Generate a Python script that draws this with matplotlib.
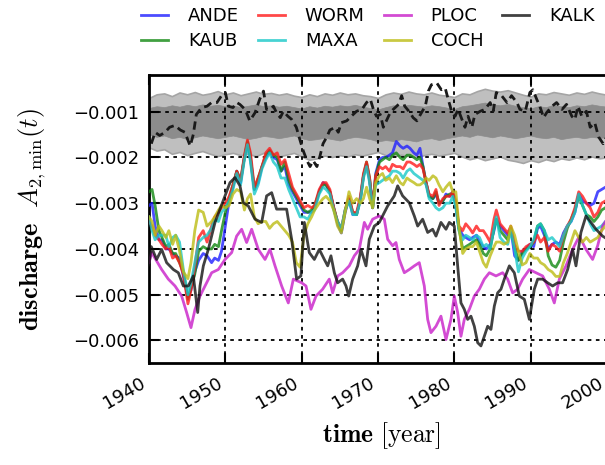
import numpy as np
import matplotlib
matplotlib.use("Agg")
import matplotlib.pyplot as plt
from matplotlib.ticker import FuncFormatter

plt.rcParams['mathtext.fontset'] = 'cm'

# values are in units of 1e-3
years_grp = [1940.0, 1940.4, 1940.8, 1941.3, 1941.7, 1942.2, 1942.6, 1943.1, 1943.5, 1944.0,
             1944.5, 1945.1, 1945.5, 1946.0, 1946.5, 1947.1, 1947.6, 1948.2, 1948.6, 1949.1,
             1949.5, 1950.0, 1950.5, 1951.0, 1951.5, 1952.0, 1952.5, 1952.9, 1953.3, 1953.8,
             1954.3, 1954.8, 1955.3, 1955.8, 1956.3, 1956.8, 1957.3, 1957.8, 1958.3, 1958.8,
             1959.3, 1959.8, 1960.3, 1960.8, 1961.3, 1961.7, 1962.3, 1962.8, 1963.2, 1963.7,
             1964.2, 1964.7, 1965.2, 1965.7, 1966.2, 1966.7, 1967.2, 1967.7, 1968.1, 1968.5,
             1968.9, 1969.3, 1969.7, 1970.2, 1970.6, 1971.0, 1971.5, 1971.9, 1972.4, 1972.9,
             1973.3, 1973.8, 1974.2, 1974.7, 1975.1, 1975.5, 1975.9, 1976.3, 1976.7, 1977.2,
             1977.6, 1978.0, 1978.5, 1978.9, 1979.4, 1979.8, 1980.2, 1980.6, 1981.1, 1981.5,
             1982.0, 1982.4, 1982.9, 1983.3, 1983.8, 1984.2, 1984.7, 1985.2, 1985.5, 1986.0,
             1986.5, 1987.0, 1987.4, 1987.9, 1988.4, 1988.9, 1989.4, 1989.9, 1990.4, 1990.9,
             1991.3, 1991.8, 1992.3, 1992.8, 1993.3, 1993.8, 1994.3, 1994.8, 1995.3, 1995.8,
             1996.3, 1996.8, 1997.3, 1997.8, 1998.3, 1998.8, 1999.3, 1999.8, 2000.3, 2000.8]

ande = [-3.05, -3.0, -3.5, -3.8, -3.8, -4.0, -4.0, -4.1, -4.15, -4.2,
        -4.6, -5.05, -4.9, -4.5, -4.25, -4.1, -4.15, -4.3, -4.2, -4.25,
        -4.05, -3.5, -2.95, -2.65, -2.3, -2.55, -2.0, -1.7, -2.05, -2.7,
        -2.55, -2.2, -2.0, -1.85, -2.0, -2.05, -2.3, -2.2, -2.6, -2.75,
        -2.9, -3.05, -3.2, -3.2, -3.2, -3.1, -2.75, -2.55, -2.6, -2.75,
        -3.1, -3.45, -3.65, -3.2, -2.9, -3.25, -3.25, -2.9, -2.4, -2.15,
        -2.5, -3.1, -2.35, -2.05, -2.0, -2.0, -1.95, -1.9, -1.65, -1.75,
        -1.8, -1.75, -1.8, -1.9, -1.95, -1.8, -2.2, -2.55, -2.85, -2.9,
        -2.8, -3.0, -2.95, -2.8, -2.85, -2.75, -3.05, -3.55, -3.7, -3.75,
        -3.8, -3.75, -3.7, -3.85, -3.95, -4.0, -3.9, -3.6, -3.35, -3.5,
        -3.6, -3.7, -3.55, -4.15, -4.25, -4.05, -4.0, -3.9, -3.95, -3.55,
        -3.5, -3.7, -4.0, -3.9, -3.85, -3.9, -3.65, -3.5, -3.4, -3.2,
        -2.8, -2.95, -3.0, -3.05, -3.0, -2.75, -2.7, -2.65, -2.6, -2.55]
kaub = [-2.75, -2.7, -3.05, -3.6, -3.75, -3.95, -3.9, -4.1, -4.1, -4.3,
        -4.5, -5.1, -4.85, -4.55, -4.05, -3.95, -4.0, -4.0, -3.9, -3.95,
        -3.6, -3.2, -2.9, -2.6, -2.3, -2.5, -2.0, -1.65, -2.0, -2.7,
        -2.45, -2.2, -1.95, -1.85, -1.95, -2.0, -2.3, -2.1, -2.5, -2.7,
        -2.85, -3.0, -3.15, -3.2, -3.15, -3.05, -2.75, -2.6, -2.6, -2.75,
        -3.1, -3.4, -3.6, -3.15, -2.9, -3.2, -3.25, -2.9, -2.4, -2.1,
        -2.45, -3.1, -2.4, -2.1, -2.05, -2.0, -2.05, -1.95, -1.9, -2.0,
        -2.05, -1.95, -1.95, -2.0, -2.05, -2.0, -2.2, -2.55, -2.85, -2.9,
        -2.75, -3.0, -2.95, -2.85, -2.8, -2.8, -3.0, -3.55, -4.0, -3.95,
        -3.9, -3.85, -3.8, -3.9, -4.1, -4.15, -4.0, -3.55, -3.35, -3.6,
        -3.7, -3.8, -3.55, -3.95, -4.25, -4.1, -4.0, -3.95, -3.85, -3.5,
        -3.45, -3.6, -4.15, -4.35, -4.4, -4.25, -3.85, -3.55, -3.35, -3.15,
        -2.85, -3.05, -3.25, -3.3, -3.4, -3.3, -3.15, -3.1, -3.0, -2.95]
worm = [-3.4, -3.5, -3.7, -3.8, -3.9, -4.0, -3.95, -4.2, -4.15, -4.3,
        -4.55, -5.2, -4.9, -4.4, -3.75, -3.6, -3.85, -3.5, -3.3, -3.2,
        -3.1, -3.0, -2.85, -2.6, -2.3, -2.5, -1.95, -1.62, -1.9, -2.65,
        -2.45, -2.2, -1.9, -1.8, -1.95, -1.9, -2.15, -2.05, -2.35, -2.65,
        -2.8, -2.95, -3.1, -3.05, -3.1, -3.05, -2.7, -2.55, -2.55, -2.7,
        -3.1, -3.4, -3.55, -3.15, -2.85, -3.2, -3.2, -2.85, -2.35, -2.1,
        -2.45, -3.1, -2.4, -2.2, -2.25, -2.2, -2.3, -2.15, -2.2, -2.2,
        -2.25, -2.1, -2.1, -2.15, -2.2, -2.15, -2.25, -2.55, -2.8, -2.85,
        -2.7, -3.05, -2.9, -2.85, -2.85, -2.75, -2.95, -3.5, -3.6, -3.45,
        -3.55, -3.65, -3.5, -3.6, -3.6, -3.7, -3.85, -3.35, -3.15, -3.45,
        -3.55, -3.65, -3.5, -3.9, -4.05, -4.05, -3.95, -3.9, -3.85, -3.7,
        -3.85, -3.75, -4.05, -3.9, -3.95, -4.05, -3.7, -3.5, -3.35, -3.1,
        -2.75, -2.85, -3.0, -3.1, -3.3, -3.2, -3.0, -2.95, -2.9, -2.85]
maxa = [-3.3, -3.6, -3.8, -3.7, -3.7, -3.7, -3.95, -3.75, -3.7, -3.85,
        -4.45, -5.0, -4.75, -4.3, -3.85, -3.75, -3.7, -3.55, -3.35, -3.4,
        -3.2, -3.1, -2.95, -2.7, -2.35, -2.6, -2.05, -1.72, -2.1, -2.8,
        -2.6, -2.25, -2.05, -1.9, -2.1, -2.2, -2.45, -2.45, -2.7, -2.9,
        -3.1, -3.3, -3.3, -3.35, -3.2, -3.15, -2.8, -2.65, -2.7, -2.8,
        -3.15, -3.4, -3.55, -3.15, -2.95, -3.25, -3.25, -2.95, -2.45, -2.2,
        -2.55, -3.1, -2.6, -2.55, -2.5, -2.45, -2.4, -2.3, -2.3, -2.35,
        -2.45, -2.3, -2.25, -2.35, -2.4, -2.45, -2.5, -2.6, -2.9, -3.0,
        -3.1, -3.15, -3.1, -3.0, -3.0, -2.85, -3.1, -3.6, -3.8, -3.7,
        -3.75, -3.8, -3.7, -3.75, -3.95, -3.9, -4.0, -3.55, -3.3, -3.75,
        -3.85, -3.9, -3.6, -4.0, -4.5, -4.2, -4.05, -3.95, -3.8, -3.5,
        -3.45, -3.6, -3.8, -3.75, -3.85, -3.95, -3.7, -3.5, -3.4, -3.2,
        -2.8, -3.05, -3.25, -3.45, -3.6, -3.55, -3.5, -3.4, -3.3, -3.25]
coch = [-3.3, -3.4, -3.7, -3.5, -3.6, -3.75, -3.6, -3.9, -3.7, -4.05,
        -4.5, -4.65, -4.3, -3.6, -3.15, -3.2, -3.5, -3.4, -3.3, -3.15,
        -3.05, -3.1, -3.05, -2.8, -2.7, -2.75, -3.15, -2.9, -2.8, -3.3,
        -3.45, -3.4, -3.4, -3.55, -3.45, -3.4, -3.5, -3.6, -3.7, -3.85,
        -4.3, -4.4, -3.7, -3.45, -3.3, -3.15, -3.0, -2.9, -2.85, -2.95,
        -3.15, -3.5, -3.65, -3.2, -2.75, -3.0, -2.9, -3.0, -2.9, -2.65,
        -2.9, -3.1, -2.55, -2.4, -2.35, -2.5, -2.45, -2.55, -2.4, -2.55,
        -2.6, -2.45, -2.5, -2.55, -2.6, -2.6, -2.55, -2.45, -2.5, -2.4,
        -2.45, -2.6, -2.75, -2.65, -2.55, -2.75, -2.75, -3.5, -4.1, -4.0,
        -3.95, -3.95, -3.85, -4.05, -4.3, -4.4, -4.15, -3.95, -3.85, -3.85,
        -3.9, -3.85, -3.5, -3.7, -4.05, -4.35, -4.3, -4.1, -4.2, -4.2,
        -4.3, -4.35, -4.45, -4.5, -4.6, -4.6, -4.3, -4.1, -3.85, -3.6,
        -3.75, -3.85, -3.75, -3.85, -3.8, -3.75, -3.6, -3.5, -3.4, -3.35]

years_ploc = [1940.0, 1940.35, 1941.66, 1942.53, 1943.41, 1944.28, 1944.93, 1945.5, 1946.03, 1946.68,
              1947.55, 1948.21, 1949.08, 1949.96, 1950.83, 1951.48, 1952.14, 1952.79, 1953.45, 1954.32,
              1955.2, 1955.85, 1956.51, 1957.38, 1958.25, 1958.91, 1960.0, 1960.57, 1961.22, 1961.88,
              1962.75, 1963.62, 1964.06, 1964.72, 1965.37, 1966.24, 1966.9, 1967.55, 1968.21, 1968.65,
              1969.3, 1970.17, 1970.83, 1971.27, 1971.92, 1972.36, 1972.79, 1973.45, 1974.1, 1974.76,
              1975.41, 1976.07, 1976.51, 1976.94, 1977.6, 1978.25, 1978.91, 1979.56, 1980.0, 1980.44,
              1980.87, 1981.31, 1981.97, 1982.62, 1983.28, 1983.93, 1984.59, 1985.46, 1986.33, 1986.99,
              1987.64, 1988.3, 1988.95, 1989.83, 1990.7, 1991.57, 1992.45, 1993.1, 1993.76, 1994.63,
              1995.5, 1996.38, 1997.25, 1998.12, 1998.78, 1999.43, 2000.2, 2001.0]
ploc = [-4.3, -4.08, -4.45, -4.66, -4.81, -5.03, -5.39, -5.72, -5.32, -5.03,
        -4.74, -4.52, -4.45, -4.23, -4.08, -3.72, -3.57, -3.86, -3.57, -4.01,
        -4.23, -4.01, -4.37, -4.81, -5.18, -4.66, -4.74, -4.81, -5.32, -5.03,
        -4.88, -4.66, -4.96, -4.59, -4.52, -4.37, -4.15, -4.01, -3.42, -3.57,
        -3.35, -3.28, -3.35, -3.79, -3.93, -3.86, -4.23, -4.52, -4.45, -4.37,
        -4.3, -4.81, -5.54, -5.83, -5.69, -5.47, -5.98, -5.54, -5.03, -5.39,
        -5.91, -5.54, -5.32, -5.03, -4.88, -4.66, -4.52, -4.59, -4.52, -4.66,
        -4.96, -4.88, -4.66, -4.45, -4.52, -4.59, -4.88, -5.18, -4.66, -4.37,
        -4.01, -3.72, -4.01, -4.23, -3.93, -3.5, -3.3, -3.2]

years_kalk = [1940.0, 1940.3, 1941.0, 1941.66, 1942.31, 1943.19, 1943.84, 1944.5, 1945.15, 1945.81,
              1946.38, 1946.68, 1947.12, 1947.77, 1948.65, 1949.3, 1949.96, 1950.61, 1951.27, 1951.92,
              1952.36, 1953.01, 1953.89, 1954.76, 1955.41, 1956.07, 1956.72, 1957.38, 1958.03, 1958.69,
              1959.34, 1959.9, 1960.35, 1961.0, 1961.66, 1962.31, 1962.97, 1963.41, 1963.84, 1964.28,
              1964.72, 1965.37, 1965.81, 1966.16, 1966.68, 1967.34, 1967.77, 1968.43, 1968.86, 1969.52,
              1970.17, 1971.27, 1972.14, 1972.58, 1973.23, 1974.1, 1974.76, 1975.2, 1975.85, 1976.51,
              1977.16, 1977.6, 1978.25, 1978.91, 1979.34, 1980.0, 1980.44, 1980.87, 1981.31, 1981.75,
              1982.18, 1982.62, 1983.06, 1983.49, 1983.93, 1984.37, 1984.8, 1985.24, 1985.68, 1986.11,
              1986.55, 1987.21, 1987.86, 1988.52, 1989.17, 1989.83, 1990.48, 1990.92, 1991.57, 1992.23,
              1992.88, 1993.54, 1994.19, 1994.85, 1995.5, 1995.94, 1996.59, 1997.25, 1997.9, 1998.56,
              1999.43, 2000.2, 2001.0]
kalk = [-4.35, -3.95, -4.23, -4.01, -4.3, -4.45, -4.52, -4.81, -4.81, -4.59,
        -5.39, -4.81, -4.37, -4.01, -3.42, -3.13, -2.84, -2.55, -2.44, -2.62,
        -2.99, -3.06, -3.35, -3.42, -2.84, -2.77, -3.13, -3.13, -3.13, -3.79,
        -4.66, -4.59, -3.42, -4.08, -4.23, -4.01, -4.23, -4.37, -4.15, -4.52,
        -4.74, -4.66, -4.81, -5.03, -4.66, -4.37, -4.01, -4.37, -3.79, -3.5,
        -3.42, -3.06, -2.84, -2.62, -2.84, -2.99, -3.28, -3.5, -3.35, -3.64,
        -3.57, -3.72, -3.42, -3.57, -3.42, -3.5, -4.37, -5.18, -5.32, -5.54,
        -5.47, -5.69, -6.05, -6.12, -5.91, -5.69, -5.76, -5.25, -4.96, -4.88,
        -4.66, -4.37, -4.52, -5.03, -5.1, -5.54, -4.88, -4.66, -4.66, -4.74,
        -4.81, -4.74, -4.74, -4.45, -4.01, -4.37, -3.64, -3.28, -3.42, -3.57,
        -3.72, -3.8, -3.8]

# reference curve (dashed) and its bands
years_ref = [1940.3, 1940.8, 1941.4, 1942.1, 1942.7, 1943.4, 1944.1, 1944.7, 1945.4, 1945.8,
             1946.2, 1946.9, 1947.6, 1948.2, 1948.9, 1949.5, 1950.0, 1950.4, 1951.0, 1951.5,
             1951.9, 1952.6, 1953.2, 1953.9, 1954.5, 1955.0, 1955.4, 1955.9, 1956.3, 1956.7,
             1957.2, 1957.6, 1958.2, 1958.7, 1959.3, 1959.8, 1960.2, 1960.7, 1961.1, 1961.5,
             1962.0, 1962.4, 1962.8, 1963.3, 1963.7, 1964.4, 1964.8, 1965.2, 1965.9, 1966.5,
             1967.2, 1967.9, 1968.5, 1969.0, 1969.4, 1969.8, 1970.3, 1970.7, 1971.1, 1971.6,
             1972.0, 1972.7, 1973.1, 1973.5, 1974.2, 1974.6, 1975.1, 1975.7, 1976.2, 1976.6,
             1977.0, 1977.7, 1978.3, 1978.8, 1979.2, 1979.7, 1980.1, 1980.5, 1981.0, 1981.4,
             1981.8, 1982.3, 1982.7, 1983.4, 1984.0, 1984.7, 1985.1, 1985.5, 1986.2, 1986.9,
             1987.5, 1988.2, 1988.6, 1989.3, 1989.9, 1990.3, 1990.8, 1991.2, 1991.7, 1992.1,
             1992.8, 1993.4, 1994.1, 1994.7, 1995.4, 1995.8, 1996.2, 1996.7, 1997.3, 1997.8,
             1998.4, 1998.9, 1999.5, 2000.1, 2000.8]
ref = [-1.7, -1.45, -1.52, -1.45, -1.34, -1.3, -1.4, -1.45, -1.75, -1.5,
       -1.06, -0.91, -0.88, -0.8, -0.8, -0.65, -0.58, -0.88, -0.91, -0.8,
       -0.84, -0.95, -1.2, -1.02, -0.73, -0.55, -0.95, -0.95, -0.88, -1.02,
       -1.13, -0.99, -1.1, -1.17, -1.34, -1.63, -1.85, -2.07, -2.2, -2.07,
       -2.2, -1.97, -1.7, -1.55, -1.4, -1.34, -1.45, -1.24, -1.2, -1.1,
       -0.99, -0.95, -0.8, -0.73, -0.95, -1.1, -1.06, -1.34, -1.2, -1.02,
       -0.95, -0.84, -0.65, -0.88, -1.02, -1.13, -1.2, -1.02, -0.88, -0.55,
       -0.41, -0.37, -0.52, -0.48, -0.73, -1.02, -1.1, -0.95, -1.17, -1.34,
       -1.1, -1.34, -1.06, -0.99, -0.95, -0.8, -0.99, -0.58, -0.65, -0.8,
       -0.65, -0.8, -0.95, -0.99, -0.58, -0.52, -0.73, -0.88, -1.13, -1.02,
       -0.88, -0.8, -0.95, -0.84, -1.1, -1.17, -0.88, -1.1, -0.99, -1.34,
       -1.24, -1.55, -1.7, -1.5, -1.3]

years_band = list(range(1940, 2002))
outer_top = [-0.70, -0.62, -0.60, -0.66, -0.58, -0.62, -0.57, -0.63, -0.60, -0.55,
             -0.62, -0.58, -0.64, -0.60, -0.56, -0.61, -0.59, -0.63, -0.60, -0.65,
             -0.68, -0.62, -0.66, -0.60, -0.63, -0.58, -0.62, -0.60, -0.64, -0.66,
             -0.70, -0.62, -0.58, -0.61, -0.56, -0.60, -0.62, -0.58, -0.63, -0.65,
             -0.68, -0.60, -0.62, -0.55, -0.50, -0.54, -0.56, -0.53, -0.58, -0.63,
             -0.67, -0.60, -0.62, -0.57, -0.60, -0.63, -0.58, -0.61, -0.56, -0.60,
             -0.63, -0.60]
inner_top = [-0.92, -0.88, -0.90, -0.86, -0.89, -0.85, -0.88, -0.84, -0.87, -0.85,
             -0.88, -0.86, -0.90, -0.87, -0.84, -0.88, -0.86, -0.89, -0.87, -0.90,
             -0.93, -0.88, -0.91, -0.87, -0.89, -0.86, -0.88, -0.85, -0.89, -0.92,
             -0.95, -0.90, -0.86, -0.88, -0.85, -0.87, -0.89, -0.86, -0.88, -0.91,
             -0.94, -0.88, -0.86, -0.83, -0.80, -0.84, -0.86, -0.83, -0.87, -0.90,
             -0.93, -0.88, -0.90, -0.85, -0.88, -0.90, -0.86, -0.88, -0.84, -0.87,
             -0.89, -0.87]
inner_bot = [-1.50, -1.55, -1.52, -1.58, -1.55, -1.60, -1.56, -1.52, -1.55, -1.58,
             -1.55, -1.52, -1.56, -1.60, -1.57, -1.53, -1.55, -1.58, -1.55, -1.52,
             -1.58, -1.62, -1.60, -1.57, -1.60, -1.63, -1.58, -1.55, -1.57, -1.60,
             -1.65, -1.62, -1.64, -1.60, -1.62, -1.65, -1.60, -1.58, -1.62, -1.58,
             -1.55, -1.52, -1.55, -1.50, -1.53, -1.56, -1.52, -1.55, -1.58, -1.55,
             -1.52, -1.56, -1.58, -1.55, -1.60, -1.57, -1.55, -1.58, -1.55, -1.57,
             -1.56, -1.55]
outer_bot = [-1.78, -1.85, -1.82, -1.92, -1.88, -1.95, -1.90, -1.86, -1.92, -1.97,
             -1.93, -1.90, -1.95, -1.92, -1.97, -1.90, -1.93, -1.98, -1.94, -1.90,
             -1.98, -2.05, -2.02, -1.96, -1.99, -1.95, -1.98, -1.93, -1.96, -1.92,
             -1.88, -1.95, -1.98, -1.94, -1.97, -2.00, -1.95, -1.92, -1.96, -1.93,
             -1.90, -1.98, -2.04, -2.00, -2.06, -2.02, -1.98, -2.05, -2.08, -2.12,
             -2.06, -2.10, -2.04, -2.08, -2.02, -2.05, -2.00, -2.04, -1.98, -2.02,
             -2.00, -1.98]

s = 1e-3
fig = plt.figure(figsize=(6.05, 4.65), dpi=100)
# axes run on past the right edge of the figure, as in the original
ax = fig.add_axes([149 / 605, 101.7 / 465, 465.6 / 605, 288.2 / 465])

yb = np.array(years_band)
ax.fill_between(yb, np.array(outer_bot) * s, np.array(outer_top) * s,
                facecolor='#bfbfbf', edgecolor='#a5a5a5', lw=1.2, zorder=1)
ax.fill_between(yb, np.array(inner_bot) * s, np.array(inner_top) * s,
                facecolor='#8c8c8c', edgecolor='#8c8c8c', lw=0.5, zorder=1)
ax.plot(years_ref, np.array(ref) * s, color='#1a1a1a', lw=2, ls=(0, (3, 1.8)), zorder=2)

series = [('ANDE', years_grp, ande, 'b'),
          ('KAUB', years_grp, kaub, 'g'),
          ('WORM', years_grp, worm, 'r'),
          ('MAXA', years_grp, maxa, 'c'),
          ('PLOC', years_ploc, ploc, 'm'),
          ('COCH', years_grp, coch, 'y'),
          ('KALK', years_kalk, kalk, 'k')]
cols = {'b': '#1f1fff', 'g': '#118811', 'r': '#ff1a1a', 'c': '#19c8c8',
        'm': '#c81ec8', 'y': '#bcbc14', 'k': '#111111'}
for name, xs, vals, c in series:
    ax.plot(xs, np.array(vals) * s, color=cols[c], lw=2, alpha=0.8, label=name, zorder=3)

ax.set_xlim(1940, 2001)
ax.set_ylim(-0.0065, -0.0002)
ax.set_xticks([1940, 1950, 1960, 1970, 1980, 1990, 2000])
ax.set_yticks([-0.006, -0.005, -0.004, -0.003, -0.002, -0.001])
ax.yaxis.set_major_formatter(FuncFormatter(lambda v, p: f'{v:.3f}'.replace('-', '\u2212')))
ax.tick_params(direction='in', length=7, width=1.5, labelsize=13, top=True, right=True)
ax.tick_params(axis='y', pad=7)
ax.tick_params(axis='x', pad=8)
for lab in ax.get_xticklabels():
    lab.set_rotation(30)
    lab.set_ha('right')
for sp in ax.spines.values():
    sp.set_linewidth(2)
ax.grid(True, color='k', ls=(0, (2, 2.5)), lw=1.3)

ax.set_xlabel(r'$\mathbf{time}\ [\mathrm{year}]$', fontsize=18.5, labelpad=5)
ax.set_ylabel(r'$\mathbf{discharge}\ \ A_{2,\min}(t)$', fontsize=19, labelpad=18)

ax.legend(loc='upper left', bbox_to_anchor=(132 / 605, 1 + 2 / 465), bbox_transform=fig.transFigure,
          ncol=4, frameon=False, fontsize=13, borderpad=0, handlelength=1.5,
          handletextpad=1.1, columnspacing=1.05, labelspacing=0.4)

fig.savefig('out.png', dpi=100)
